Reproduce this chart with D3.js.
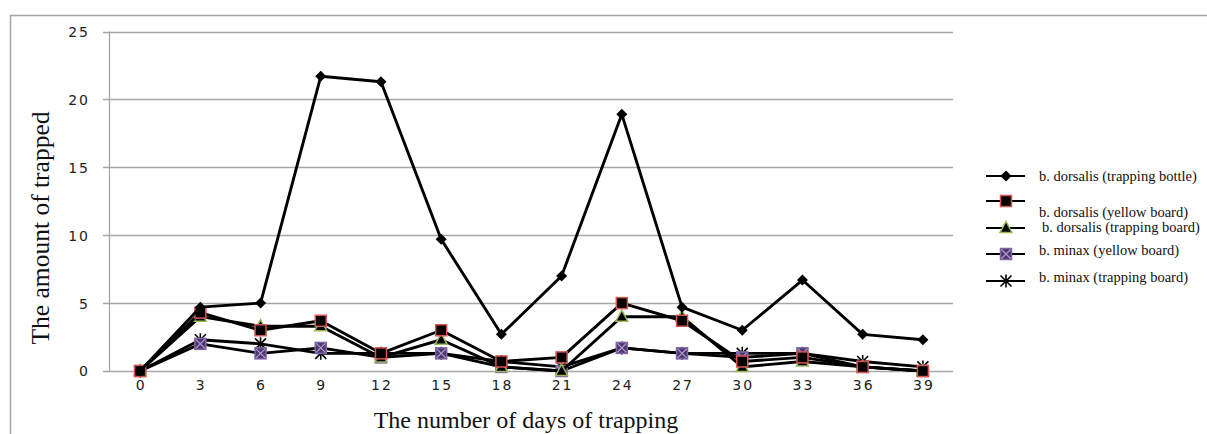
<!DOCTYPE html>
<html><head><meta charset="utf-8">
<script src="https://cdn.jsdelivr.net/npm/d3@7"></script>
<style>body{margin:0;background:#fff;}svg{display:block;}</style>
</head><body>
<svg id="c" width="1207" height="434"></svg>
<script>
const days = [0,3,6,9,12,15,18,21,24,27,30,33,36,39];
const yTicks = [0,5,10,15,20,25];
const bottleDorsalis = [0,4.7,5.0,21.7,21.3,9.7,2.7,7.0,18.9,4.7,3.0,6.7,2.7,2.3];
const yellowDorsalis = [0,4.3,3.0,3.7,1.3,3.0,0.7,1.0,5.0,3.7,0.7,1.0,0.3,0];
const boardDorsalis  = [0,4.0,3.3,3.3,1.0,2.3,0.3,0,4.0,4.0,0.3,0.7,0.3,0];
const yellowMinax    = [0,2.0,1.3,1.7,1.0,1.3,0.3,0,1.7,1.3,1.0,1.3,0.3,0];
const boardMinax     = [0,2.3,2.0,1.3,1.3,1.3,0.7,0.3,1.7,1.3,1.3,1.3,0.7,0.3];
const seriesNames = ["b. dorsalis (trapping bottle)","b. dorsalis (yellow board)","b. dorsalis (trapping board)","b. minax (yellow board)","b. minax (trapping board)"];

const series = [
  {name:seriesNames[0], values:bottleDorsalis, marker:"diamond"},
  {name:seriesNames[1], values:yellowDorsalis, marker:"square"},
  {name:seriesNames[2], values:boardDorsalis, marker:"triangle"},
  {name:seriesNames[3], values:yellowMinax, marker:"xsquare"},
  {name:seriesNames[4], values:boardMinax, marker:"star"}
];

const svg = d3.select("#c");
const grid = "#a6a6a6";
// frame
svg.append("path").attr("d","M10.5,434 L10.5,15.5 L1207,15.5").attr("fill","none").attr("stroke",grid).attr("stroke-width",1.5);

const x = d3.scaleBand().domain(days).range([110,953]);
const y = d3.scaleLinear().domain([0,25]).range([371,31.5]);
const cx = d => x(d) + x.bandwidth()/2;

// gridlines
svg.append("g").selectAll("line").data(yTicks).join("line")
  .attr("x1",103).attr("x2",953).attr("y1",d=>Math.round(y(d))+0.5).attr("y2",d=>Math.round(y(d))+0.5)
  .attr("stroke",grid).attr("stroke-width",1.3);
// y axis line
svg.append("line").attr("x1",109.5).attr("x2",109.5).attr("y1",y(25)).attr("y2",y(0)+0.5).attr("stroke",grid).attr("stroke-width",1.3);

// y tick labels
const yAx = d3.axisLeft(y).tickValues(yTicks).tickSize(0).tickPadding(0);
const gy = svg.append("g").attr("transform","translate(90,0)").call(yAx);
gy.select(".domain").remove();
gy.selectAll("text").attr("font-family","DejaVu Sans").attr("font-size",14).attr("fill","#222").attr("letter-spacing","2px").attr("dy","0.35em");

// x tick labels
const xAx = d3.axisBottom(x).tickSize(0).tickPadding(0);
const gx = svg.append("g").attr("transform","translate(1,385)").call(xAx);
gx.select(".domain").remove();
gx.selectAll("text").attr("font-family","DejaVu Sans").attr("font-size",14).attr("fill","#222").attr("letter-spacing","2px").attr("dy","0.35em");

// titles
svg.append("text").attr("transform","translate(49,228) rotate(-90)").attr("text-anchor","middle")
  .attr("font-family","Liberation Serif").attr("font-size",25.5).attr("fill","#111").text("The amount of trapped");
svg.append("text").attr("x",526).attr("y",428).attr("text-anchor","middle")
  .attr("font-family","Liberation Serif").attr("font-size",24).attr("fill","#111").text("The number of days of trapping");

function drawMarker(g, type, px, py){
  if(type==="diamond"){
    g.append("path").attr("d",`M${px},${py-5.5} L${px+5.5},${py} L${px},${py+5.5} L${px-5.5},${py} Z`).attr("fill","#000");
  } else if(type==="square"){
    g.append("rect").attr("x",px-5.5).attr("y",py-5.5).attr("width",11).attr("height",11).attr("fill","#000").attr("stroke","#d9534f").attr("stroke-width",1.5);
  } else if(type==="triangle"){
    g.append("path").attr("d",`M${px},${py-6.5} L${px+6},${py+4.5} L${px-6},${py+4.5} Z`).attr("fill","#000").attr("stroke","#9bbb59").attr("stroke-width",1.5);
  } else if(type==="xsquare"){
    g.append("rect").attr("x",px-5.5).attr("y",py-5.5).attr("width",11).attr("height",11).attr("fill","#4b3a6b").attr("stroke","#8064a2").attr("stroke-width",1.5);
    g.append("path").attr("d",`M${px-4.5},${py-4.5} L${px+4.5},${py+4.5} M${px-4.5},${py+4.5} L${px+4.5},${py-4.5}`).attr("stroke","#b39ddb").attr("stroke-width",1.2);
  } else if(type==="star"){
    g.append("path").attr("d",`M${px-5.5},${py-5.5} L${px+5.5},${py+5.5} M${px-5.5},${py+5.5} L${px+5.5},${py-5.5} M${px},${py-6.5} L${px},${py+6.5}`).attr("stroke","#000").attr("stroke-width",1.6);
  }
}

const line = d3.line().x((d,i)=>cx(days[i])).y(d=>y(d));
// draw in reverse so bottle on top
const order = [4,3,2,1,0];
order.forEach(k=>{
  const s = series[k];
  const g = svg.append("g");
  g.append("path").attr("d",line(s.values)).attr("fill","none").attr("stroke","#000").attr("stroke-width",2.9).attr("stroke-linejoin","round");
  s.values.forEach((v,i)=>drawMarker(g, s.marker, cx(days[i]), y(v)));
});

// legend
const legY = [176, 201, 228, 254, 281];
const legTextY = [176, 212, 227, 250, 277];
const legTextX = [1039, 1039, 1042, 1039, 1039];
series.forEach((s,k)=>{
  const g = svg.append("g");
  g.append("line").attr("x1",986).attr("x2",1025).attr("y1",legY[k]).attr("y2",legY[k]).attr("stroke","#000").attr("stroke-width",2.2);
  drawMarker(g, s.marker, 1006, legY[k]);
  g.append("text").attr("x",legTextX[k]).attr("y",legTextY[k]).attr("dy","0.35em")
    .attr("font-family","Liberation Serif").attr("font-size",14.5).attr("fill","#111").text(s.name);
});
</script>
</body></html>
